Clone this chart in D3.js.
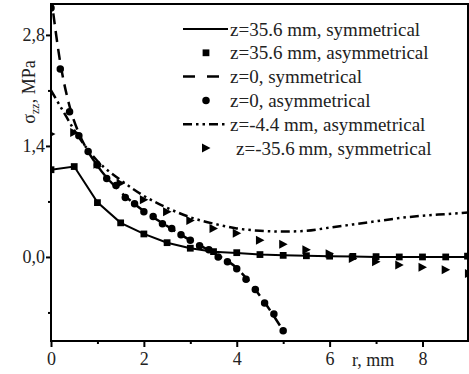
<!DOCTYPE html>
<html><head><meta charset="utf-8">
<script src="https://cdn.jsdelivr.net/npm/d3@7"></script>
<style>body{margin:0;background:#fff}svg{display:block}</style>
</head><body>
<svg id="c" width="469" height="374" font-family="Liberation Serif"></svg>
<script>
// ---- data ----
const xTicks = [0, 2, 4, 6, 8];
const xMinor = [1, 3, 5, 7];
const yTicks = [0, 1.4, 2.8];
const yMinor = [-0.7, 0.7, 2.1];

// z=35.6 mm, symmetrical (solid line)
const symA_r = [0, 0.5, 1.0, 1.5, 2.0, 2.5, 3.0, 3.5, 4.0, 4.5, 5.0, 5.5, 6.0, 6.5, 7.0, 7.5, 8.0, 8.5, 9.0];
const symA_v = [1.10, 1.14, 0.69, 0.43, 0.29, 0.18, 0.11, 0.065, 0.05, 0.03, 0.02, 0.015, 0.01, 0.005, 0.0, 0.0, 0.0, 0.0, 0.0];
// z=35.6 mm, asymmetrical (squares)
const asymA_r = [0, 0.5, 1.0, 1.5, 2.0, 2.5, 3.0, 3.5, 4.0, 4.5, 5.0, 5.5, 6.0, 6.5, 7.0, 7.5, 8.0, 8.5, 8.97];
const asymA_v = [1.10, 1.14, 0.685, 0.43, 0.29, 0.18, 0.11, 0.067, 0.054, 0.03, 0.02, 0.015, 0.01, 0.007, 0.004, 0.0, 0.0, 0.0, 0.01];
// z=0, symmetrical (dashed)
const symB_r = [0, 0.2, 0.4, 0.6, 0.8, 1.0, 1.5, 2.0, 2.5, 3.0, 3.5, 4.0, 4.5, 5.0];
const symB_v = [3.30, 2.45, 1.90, 1.56, 1.33, 1.15, 0.82, 0.58, 0.39, 0.21, 0.05, -0.14, -0.49, -0.93];
// z=0, asymmetrical (circles)
const asymB_r = [0, 0.2, 0.4, 0.6, 0.8, 1.0, 1.2, 1.4, 1.6, 1.8, 2.0, 2.2, 2.4, 2.6, 2.8, 3.0, 3.2, 3.4, 3.6, 3.8, 4.0, 4.2, 4.4, 4.6, 4.8, 5.0];
const asymB_v = [3.14, 2.37, 1.83, 1.53, 1.33, 1.16, 0.99, 0.90, 0.75, 0.67, 0.57, 0.51, 0.42, 0.36, 0.28, 0.21, 0.14, 0.09, 0.0, -0.06, -0.15, -0.28, -0.41, -0.58, -0.72, -0.93];
// z=-4.4 mm, asymmetrical (dash-dot-dot)
const asymC_r = [0, 0.25, 0.5, 1.0, 1.5, 2.0, 2.5, 3.0, 3.5, 4.0, 4.5, 5.0, 5.5, 6.0, 6.5, 7.0, 7.5, 8.0, 8.5, 9.0];
const asymC_v = [2.10, 1.85, 1.60, 1.21, 0.97, 0.77, 0.62, 0.50, 0.42, 0.36, 0.33, 0.32, 0.33, 0.37, 0.41, 0.45, 0.49, 0.52, 0.54, 0.56];
// z=-35.6 mm, symmetrical (triangles)
const symD_r = [0, 0.5, 1.0, 1.5, 2.0, 2.5, 3.0, 3.5, 4.0, 4.5, 5.0, 5.5, 6.0, 6.5, 7.0, 7.5, 8.0, 8.5, 9.0];
const symD_v = [1.55, 1.57, 1.17, 0.93, 0.72, 0.57, 0.46, 0.36, 0.30, 0.21, 0.16, 0.09, 0.04, -0.02, -0.06, -0.10, -0.13, -0.16, -0.21];

const legendLabels = ["z=35.6 mm, symmetrical", "z=35.6 mm, asymmetrical", "z=0, symmetrical", "z=0, asymmetrical", "z=-4.4 mm, asymmetrical", "z=-35.6\u2009mm, symmetrical"];

// ---- layout ----
const FONT = "Liberation Serif";
const TXT = "#222";
const L = 51, R = 468, T = 4, B = 341;
const x = d3.scaleLinear().domain([0, 8.98]).range([L, R]);
const y = d3.scaleLinear().domain([-1.06, 3.19]).range([B, T]);
const svg = d3.select("#c");
const fmt = v => d3.format(".1f")(v).replace(".", ",");

svg.append("defs").append("clipPath").attr("id", "clip")
  .append("rect").attr("x", L).attr("y", T).attr("width", R - L).attr("height", B - T);
const g = svg.append("g").attr("clip-path", "url(#clip)");

const zip = (a, b) => a.map((d, i) => [d, b[i]]);
const line = d3.line().x(d => x(d[0])).y(d => y(d[1]));
const smooth = d3.line().curve(d3.curveMonotoneX).x(d => x(d[0])).y(d => y(d[1]));

// lines
g.append("path").datum(zip(symA_r, symA_v)).attr("d", line)
  .attr("fill", "none").attr("stroke", "#000").attr("stroke-width", 2);
g.append("path").datum(zip(symB_r, symB_v)).attr("d", smooth)
  .attr("fill", "none").attr("stroke", "#000").attr("stroke-width", 2.5).attr("stroke-dasharray", "11,7");
g.append("path").datum(zip(asymC_r, asymC_v)).attr("d", smooth)
  .attr("fill", "none").attr("stroke", "#000").attr("stroke-width", 2.5).attr("stroke-dasharray", "9,4,2.5,4,2.5,4");

// markers
const sq = d3.symbol().type(d3.symbolSquare).size(46);
const ci = d3.symbol().type(d3.symbolCircle).size(44);
const triPath = "M-4,-4.5L4.5,0L-4,4.5Z";
g.selectAll(".sq").data(zip(asymA_r, asymA_v)).join("path")
  .attr("d", sq).attr("transform", d => `translate(${x(d[0])},${y(d[1])})`).attr("fill", "#000");
g.selectAll(".ci").data(zip(asymB_r, asymB_v)).join("path")
  .attr("d", ci).attr("transform", d => `translate(${x(d[0])},${y(d[1])})`).attr("fill", "#000");
g.selectAll(".tr").data(zip(symD_r, symD_v)).join("path")
  .attr("d", triPath).attr("transform", d => `translate(${x(d[0])},${y(d[1])})`).attr("fill", "#000");

// frame
svg.append("rect").attr("x", L).attr("y", T).attr("width", R - L).attr("height", B - T)
  .attr("fill", "none").attr("stroke", "#000").attr("stroke-width", 2);

// axes
const xa = svg.append("g").attr("transform", `translate(0,${B})`)
  .call(d3.axisBottom(x).tickValues(xTicks).tickSize(6).tickPadding(5).tickFormat(d3.format("d")));
const xm = svg.append("g").attr("transform", `translate(0,${B})`)
  .call(d3.axisBottom(x).tickValues(xMinor).tickSize(3).tickFormat(""));
const ya = svg.append("g").attr("transform", `translate(${L},0)`)
  .call(d3.axisLeft(y).tickValues(yTicks).tickSize(5).tickPadding(1).tickFormat(fmt));
const ym = svg.append("g").attr("transform", `translate(${L},0)`)
  .call(d3.axisLeft(y).tickValues(yMinor).tickSize(3).tickFormat(""));
[xa, xm, ya, ym].forEach(a => {
  a.attr("font-family", FONT).attr("font-size", 18);
  a.select(".domain").remove();
  a.selectAll("line").attr("stroke", "#000").attr("stroke-width", 2);
  a.selectAll("text").attr("font-size", 18).attr("font-family", FONT).attr("fill", TXT);
});

// axis titles
svg.append("text").attr("x", 352).attr("y", 366).attr("font-size", 18).attr("font-family", FONT)
  .attr("fill", TXT).text("r, mm");
const yt = svg.append("text").attr("transform", "translate(35,92) rotate(-90)")
  .attr("text-anchor", "middle").attr("font-size", 18).attr("font-family", FONT).attr("fill", TXT);
yt.append("tspan").text("σ");
yt.append("tspan").attr("font-size", 12).attr("dy", 4).text("zz");
yt.append("tspan").attr("dy", -4).text(", MPa");

// legend
const ly0 = 29, ldy = 23.8, lx0 = 183, lx1 = 228, lt = 230;
const lg = svg.append("g");
legendLabels.forEach((t, i) => {
  lg.append("text").attr("x", i === 5 ? 236 : lt).attr("y", ly0 + i * ldy).attr("dy", "0.35em")
    .attr("font-size", 19).attr("font-family", FONT).attr("fill", TXT).text(t);
});
const lyy = i => ly0 + i * ldy;
lg.append("line").attr("x1", lx0).attr("x2", lx1).attr("y1", lyy(0)).attr("y2", lyy(0)).attr("stroke", "#000").attr("stroke-width", 2);
lg.append("path").attr("d", sq).attr("transform", `translate(206,${lyy(1)})`);
lg.append("line").attr("x1", lx0).attr("x2", lx1 - 8).attr("y1", lyy(2)).attr("y2", lyy(2)).attr("stroke", "#000").attr("stroke-width", 2.5).attr("stroke-dasharray", "12,12");
lg.append("path").attr("d", ci).attr("transform", `translate(206,${lyy(3)})`);
lg.append("line").attr("x1", lx0).attr("x2", lx1).attr("y1", lyy(4)).attr("y2", lyy(4)).attr("stroke", "#000").attr("stroke-width", 2.5).attr("stroke-dasharray", "9,4,2.5,4,2.5,4");
lg.append("path").attr("d", triPath).attr("transform", `translate(206,${lyy(5)})`);
</script>
</body></html>
